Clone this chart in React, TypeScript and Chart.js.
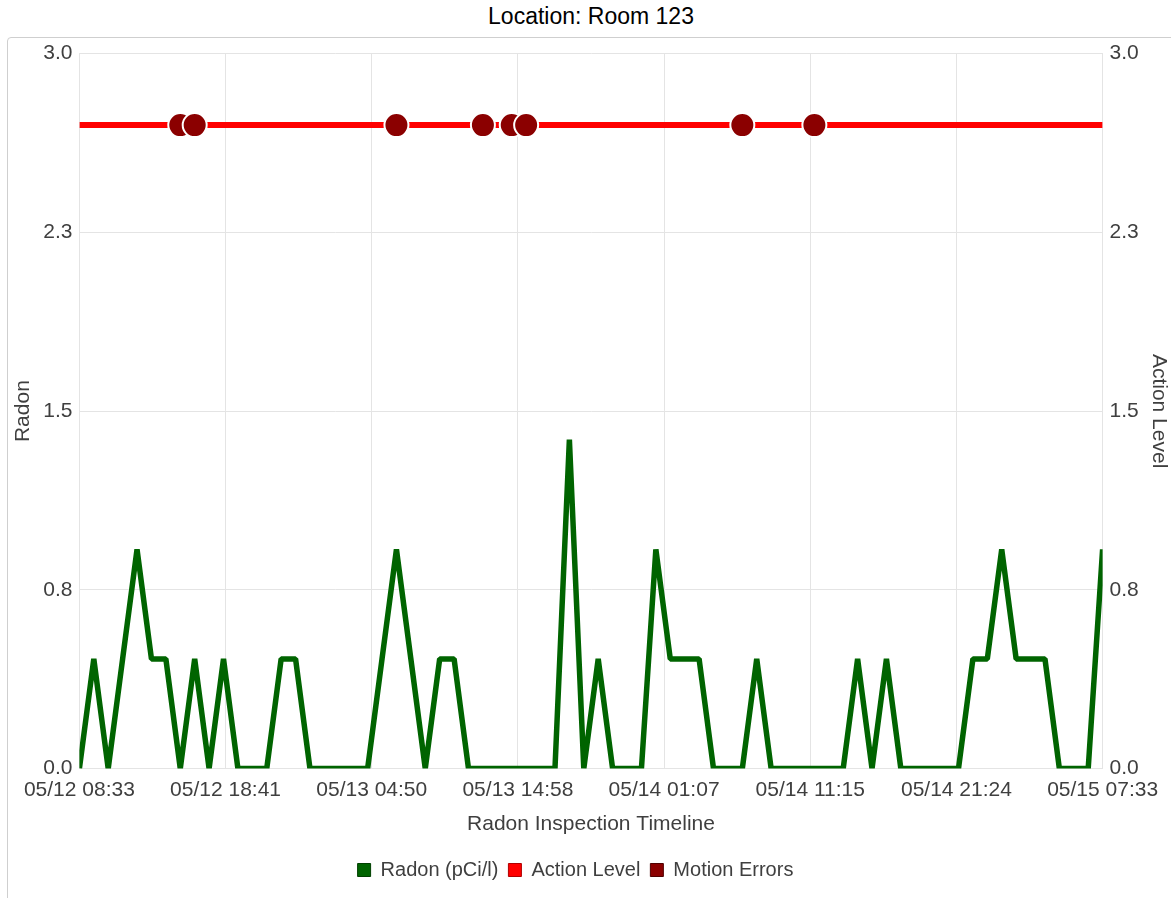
import React, { useEffect, useRef } from "react";
import { Chart, registerables } from "chart.js";

Chart.register(...registerables);

const titleText = "Location: Room 123";

// hourly radon readings (pCi/l), starting 05/12 08:33
const radonValues = [
  0, 0.46, 0, 0.46, 0.92, 0.46, 0.46, 0, 0.46, 0, 0.46, 0, 0, 0, 0.46, 0.46, 0, 0, 0, 0,
  0, 0.46, 0.92, 0.46, 0, 0.46, 0.46, 0, 0, 0, 0, 0, 0, 0, 1.38, 0, 0.46, 0, 0, 0,
  0.92, 0.46, 0.46, 0.46, 0, 0, 0, 0.46, 0, 0, 0, 0, 0, 0, 0.46, 0, 0.46, 0, 0, 0,
  0, 0, 0.46, 0.46, 0.92, 0.46, 0.46, 0.46, 0, 0, 0, 0.92,
];

const actionLevel = 2.7;

// hours (from start) at which motion errors were recorded
const motionErrorHours = [7, 8, 22, 28, 30, 31, 46, 51];

const xTickLabels = [
  "05/12 08:33",
  "05/12 18:41",
  "05/13 04:50",
  "05/13 14:58",
  "05/14 01:07",
  "05/14 11:15",
  "05/14 21:24",
  "05/15 07:33",
];

const yMin = 0;
const yMax = 3;

const FONT = "'Liberation Sans', Helvetica, Arial, sans-serif";
const TEXT = "#3f3f3f";
const GRID = "#e4e4e4";

const shiftLegend = {
  id: "shiftLegend",
  afterLayout(chart: any) {
    if (chart.legend) {
      chart.legend.left -= 14;
      chart.legend.right -= 14;
    }
  },
};

const trimTop = (s: any) => {
  s.paddingTop = Math.max(0, s.paddingTop - 4);
};

export default function App() {
  const ref = useRef<HTMLCanvasElement | null>(null);

  useEffect(() => {
    if (!ref.current) return;
    const radonData = radonValues.map((v, i) => ({ x: i, y: v }));
    const actionData = radonValues.map((_, i) => ({ x: i, y: actionLevel }));
    const motionData = motionErrorHours.map((h) => ({ x: h, y: actionLevel }));
    const legendColors = [
      { fill: "#006400", stroke: "#004000" },
      { fill: "#ff0000", stroke: "#b00000" },
      { fill: "#8b0000", stroke: "#500000" },
    ];

    const chart = new Chart(ref.current, {
      type: "line",
      data: {
        datasets: [
          {
            label: "Radon (pCi/l)",
            data: radonData,
            borderColor: "#006400",
            backgroundColor: "#006400",
            borderWidth: 5.5,
            borderJoinStyle: "bevel",
            pointRadius: 0,
            tension: 0,
            yAxisID: "y",
            order: 2,
          },
          {
            label: "Action Level",
            data: actionData,
            borderColor: "#ff0000",
            backgroundColor: "#ff0000",
            borderWidth: 6,
            pointRadius: 0,
            yAxisID: "y1",
            order: 1,
          },
          {
            label: "Motion Errors",
            data: motionData,
            showLine: false,
            borderColor: "#ffffff",
            backgroundColor: "#8b0000",
            pointBackgroundColor: "#8b0000",
            pointBorderColor: "#ffffff",
            pointBorderWidth: 2,
            pointRadius: 12,
            yAxisID: "y1",
            order: 0,
          },
        ],
      },
      options: {
        animation: false,
        responsive: false,
        maintainAspectRatio: false,
        layout: { autoPadding: false, padding: { top: 10, left: 0, right: 0, bottom: 8 } },
        scales: {
          x: {
            type: "linear",
            min: 0,
            max: radonValues.length - 1,
            grid: { color: GRID, drawTicks: false },
            border: { color: GRID },
            ticks: {
              count: xTickLabels.length,
              color: TEXT,
              font: { family: FONT, size: 21 },
              padding: 9,
              maxRotation: 0,
              autoSkip: false,
              callback: (_v: any, i: number) => xTickLabels[i],
            },
            title: {
              display: true,
              text: "Radon Inspection Timeline",
              color: TEXT,
              font: { family: FONT, size: 21 },
              padding: { top: 0, bottom: 13 },
            },
          },
          y: {
            position: "left",
            min: yMin,
            max: yMax,
            afterFit: trimTop,
            grid: { color: GRID, drawTicks: false },
            border: { color: GRID },
            ticks: {
              count: 5,
              color: TEXT,
              font: { family: FONT, size: 21 },
              padding: 7,
              callback: (v: any) => Number(v).toFixed(1),
            },
            title: {
              display: true,
              text: "Radon",
              color: TEXT,
              font: { family: FONT, size: 21 },
              padding: { top: 3, bottom: 0 },
            },
          },
          y1: {
            position: "right",
            min: yMin,
            max: yMax,
            afterFit: trimTop,
            grid: { drawOnChartArea: false, drawTicks: false },
            border: { color: GRID },
            ticks: {
              count: 5,
              color: TEXT,
              font: { family: FONT, size: 21 },
              padding: 7,
              callback: (v: any) => Number(v).toFixed(1),
            },
            title: {
              display: true,
              text: "Action Level",
              color: TEXT,
              font: { family: FONT, size: 21 },
              padding: { top: 0, bottom: 0 },
            },
          },
        },
        plugins: {
          title: { display: false },
          tooltip: { enabled: false },
          legend: {
            position: "bottom",
            labels: {
              color: TEXT,
              font: { family: FONT, size: 20 },
              boxWidth: 13,
              boxHeight: 13,
              padding: 10,
              sort: (a: any, b: any) => a.datasetIndex - b.datasetIndex,
              generateLabels: (c: any) =>
                Chart.defaults.plugins.legend.labels
                  .generateLabels(c)
                  .map((l: any) => ({
                    ...l,
                    fillStyle: legendColors[l.datasetIndex].fill,
                    strokeStyle: legendColors[l.datasetIndex].stroke,
                    lineWidth: 1,
                  })),
            },
          },
        },
      } as any,
      plugins: [shiftLegend],
    });
    return () => chart.destroy();
  }, []);

  return (
    <div
      style={{
        position: "fixed",
        left: 0,
        top: 0,
        width: "100vw",
        height: "100vh",
        overflow: "hidden",
        background: "#fff",
      }}
    >
      <div
        style={{
          position: "absolute",
          left: 0,
          top: 4,
          width: 1182,
          textAlign: "center",
          fontFamily: FONT,
          fontSize: 23,
          color: "#000",
          lineHeight: "24px",
        }}
      >
        {titleText}
      </div>
      <div
        style={{
          position: "absolute",
          left: 7,
          top: 37,
          width: 1170,
          height: 870,
          boxSizing: "border-box",
          border: "1px solid #cfcfcf",
          borderRadius: 4,
        }}
      >
        <canvas
          ref={ref}
          width={1163}
          height={860}
          style={{ display: "block", width: 1163, height: 860 }}
        />
      </div>
    </div>
  );
}
